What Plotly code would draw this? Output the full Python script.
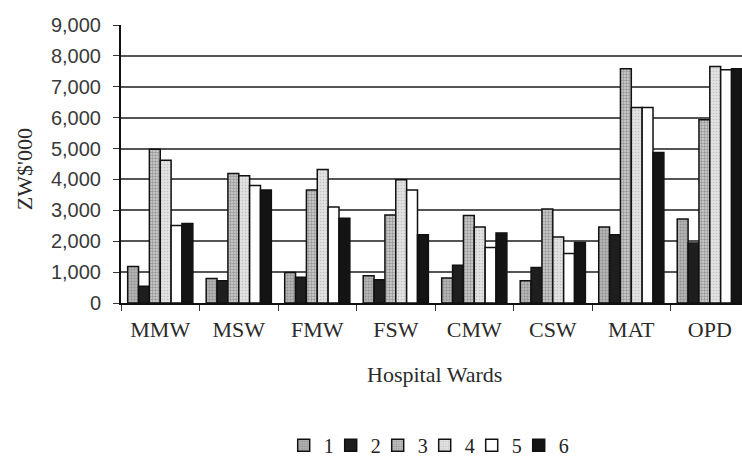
import plotly.graph_objects as go

# Hospital ward costs (ZW$'000) for six series
wards = ["MMW", "MSW", "FMW", "FSW", "CMW", "CSW", "MAT", "OPD"]
series_names = ["1", "2", "3", "4", "5", "6"]
s1 = [1180, 790, 990, 880, 810, 720, 2460, 2720]
s2 = [540, 720, 830, 750, 1220, 1150, 2210, 1940]
s3 = [4980, 4190, 3660, 2850, 2830, 3040, 7580, 5930]
s4 = [4620, 4120, 4320, 3990, 2460, 2140, 6330, 7660]
s5 = [2510, 3800, 3110, 3660, 1800, 1600, 6330, 7550]
s6 = [2570, 3660, 2740, 2210, 2270, 1960, 4870, 7580]
y_ticks = [0, 1000, 2000, 3000, 4000, 5000, 6000, 7000, 8000, 9000]

values = [s1, s2, s3, s4, s5, s6]

styles = [
    dict(color="#b4b4b4", pattern=dict(shape=".", fgcolor="#6a6a6a", bgcolor="#b4b4b4", size=3, solidity=0.35)),
    dict(color="#1e1e1e"),
    dict(color="#bdbdbd", pattern=dict(shape="+", fgcolor="#505050", bgcolor="#c4c4c4", size=3, solidity=0.3)),
    dict(color="#dedede", pattern=dict(shape=".", fgcolor="#a0a0a0", bgcolor="#e2e2e2", size=3, solidity=0.25)),
    dict(color="#ffffff"),
    dict(color="#141414"),
]

fig = go.Figure()
for i, (name, vals, st) in enumerate(zip(series_names, values, styles)):
    marker = dict(line=dict(color="#111111", width=1.5), **st)
    extra = dict(legendwidth=16) if i == len(series_names) - 1 else {}
    fig.add_trace(go.Bar(x=wards, y=vals, name=name, marker=marker, **extra))

serif = "Liberation Serif, Times New Roman, serif"
sans = "Liberation Sans, Arial, sans-serif"

fig.update_layout(
    width=742, height=461,
    margin=dict(l=121, r=0, t=25, b=158, autoexpand=False),
    paper_bgcolor="white", plot_bgcolor="white",
    barmode="group", bargap=0.17, bargroupgap=0,
    showlegend=True,
    legend=dict(
        orientation="h", x=0.262, xanchor="left", y=-0.512, yanchor="middle",
        font=dict(family=serif, size=20, color="#222222"),
        entrywidth=2, entrywidthmode="pixels", itemclick=False,
        bgcolor="rgba(0,0,0,0)",
    ),
    xaxis=dict(
        type="category", range=[-0.5, 7.41],
        showline=True, linecolor="#111111", linewidth=2,
        ticks="outside", tickson="boundaries", ticklen=6, tickcolor="#333333",
        tickfont=dict(family=serif, size=22, color="#2a2a2a"),
        ticklabelstandoff=6,
        showgrid=False,
    ),
    yaxis=dict(
        range=[0, 9000], tickvals=y_ticks, tickformat=",",
        showline=True, linecolor="#111111", linewidth=2,
        ticks="outside", ticklen=6, tickcolor="#333333",
        tickfont=dict(family=sans, size=20, color="#3a3a3a"),
        ticklabelstandoff=8,
        showgrid=True, gridcolor="#555555", gridwidth=1.6,
        zeroline=False,
    ),
    annotations=[
        dict(text="Hospital Wards", xref="paper", yref="paper", x=0.505, y=-0.256,
             showarrow=False, font=dict(family=serif, size=22, color="#2a2a2a"),
             xanchor="center", yanchor="middle"),
        dict(text="ZW$'000", xref="paper", yref="paper", x=-0.156, y=0.482,
             showarrow=False, textangle=-90, font=dict(family=serif, size=22, color="#2a2a2a"),
             xanchor="center", yanchor="middle"),
    ],
)

fig.write_html("out.html")
